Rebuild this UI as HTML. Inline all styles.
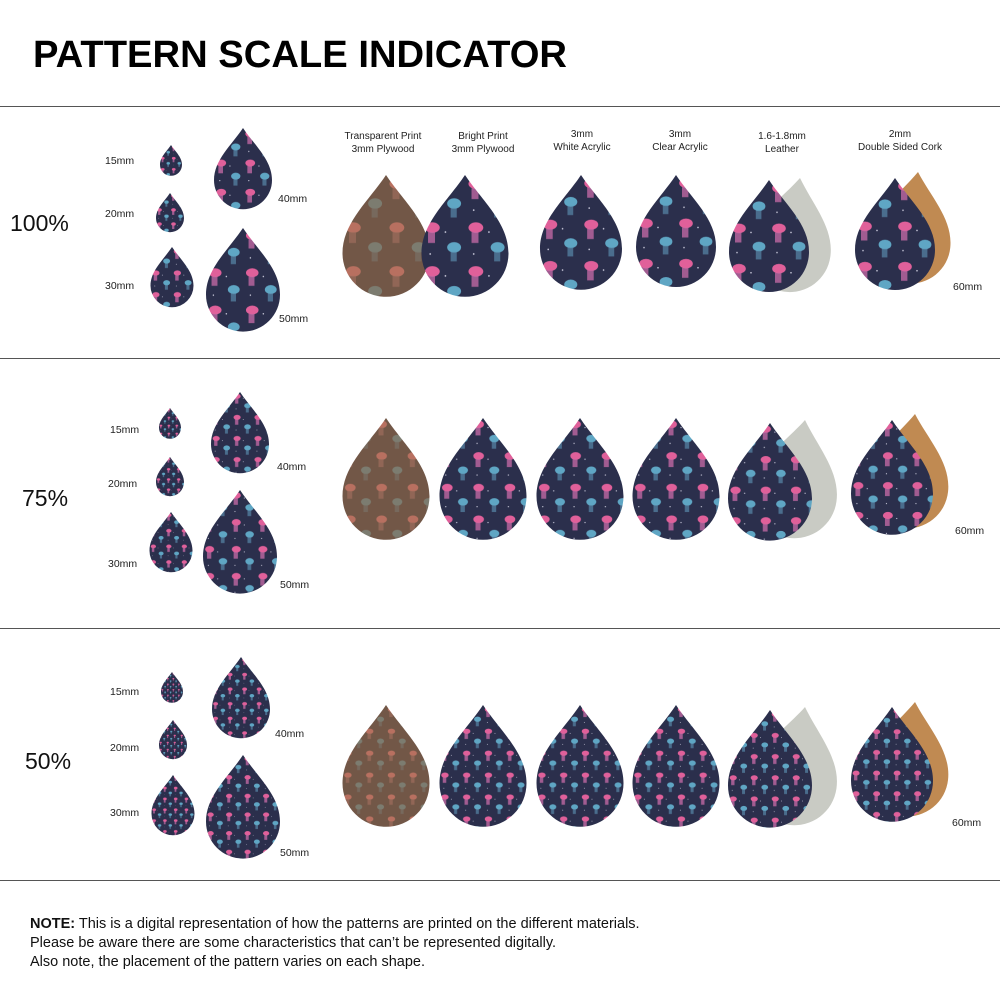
<!DOCTYPE html>
<html><head><meta charset="utf-8"><style>
body{margin:0;background:#fff;width:1000px;height:1000px;overflow:hidden;font-family:"Liberation Sans",sans-serif}
</style></head><body>
<svg width="1000" height="1000" viewBox="0 0 1000 1000" xmlns="http://www.w3.org/2000/svg" font-family="Liberation Sans, sans-serif">
<defs>
<path id="d" d="M0,0 C0.2,0.3 0.5,0.55 0.5,0.9 A0.5,0.5 0 0 1 -0.5,0.9 C-0.5,0.55 -0.2,0.3 0,0Z"/>
<g id="tn">
<rect width="1" height="1" fill="#2b2f4c"/>
<ellipse cx="0.25" cy="0.2" rx="0.17" ry="0.12" fill="#e0609a"/><rect x="0.15" y="0.3" width="0.16" height="0.25" fill="#c86aa8" opacity=".75"/>
<ellipse cx="0.75" cy="0.65" rx="0.16" ry="0.12" fill="#5fa6c4"/><rect x="0.67" y="0.75" width="0.14" height="0.22" fill="#5a8fb0" opacity=".65"/>
<circle cx="0.55" cy="0.3" r="0.02" fill="#ccd"/><circle cx="0.2" cy="0.8" r="0.02" fill="#ccd"/>
</g>
<g id="tw">
<rect width="1" height="1" fill="#725747"/>
<ellipse cx="0.25" cy="0.2" rx="0.17" ry="0.12" fill="#b87060"/><rect x="0.15" y="0.3" width="0.16" height="0.25" fill="#9a6a5a" opacity=".75"/>
<ellipse cx="0.75" cy="0.65" rx="0.16" ry="0.12" fill="#7c7c70"/><rect x="0.67" y="0.75" width="0.14" height="0.22" fill="#7a7468" opacity=".65"/>
</g>
<pattern id="p1" patternUnits="objectBoundingBox" patternContentUnits="objectBoundingBox" width="0.5" height="0.36"><use href="#tn" transform="scale(0.5,0.36)"/></pattern>
<pattern id="p2" patternUnits="objectBoundingBox" patternContentUnits="objectBoundingBox" width="0.36" height="0.26"><use href="#tn" transform="scale(0.36,0.26)"/></pattern>
<pattern id="p3" patternUnits="objectBoundingBox" patternContentUnits="objectBoundingBox" width="0.25" height="0.18"><use href="#tn" transform="scale(0.25,0.18)"/></pattern>
<pattern id="w1" patternUnits="objectBoundingBox" patternContentUnits="objectBoundingBox" width="0.5" height="0.36"><use href="#tw" transform="scale(0.5,0.36)"/></pattern>
<pattern id="w2" patternUnits="objectBoundingBox" patternContentUnits="objectBoundingBox" width="0.36" height="0.26"><use href="#tw" transform="scale(0.36,0.26)"/></pattern>
<pattern id="w3" patternUnits="objectBoundingBox" patternContentUnits="objectBoundingBox" width="0.25" height="0.18"><use href="#tw" transform="scale(0.25,0.18)"/></pattern>
</defs>

<text x="33" y="67" font-size="38" font-weight="bold" fill="#000" textLength="534" lengthAdjust="spacingAndGlyphs">PATTERN SCALE INDICATOR</text>
<g stroke="#555" stroke-width="1">
<line x1="0" y1="106.5" x2="1000" y2="106.5"/><line x1="0" y1="358.5" x2="1000" y2="358.5"/>
<line x1="0" y1="628.5" x2="1000" y2="628.5"/><line x1="0" y1="880.5" x2="1000" y2="880.5"/>
</g>

<g font-size="10" fill="#222" text-anchor="middle">
<text x="383" y="139">Transparent Print</text><text x="383" y="152">3mm Plywood</text>
<text x="483" y="139">Bright Print</text><text x="483" y="152">3mm Plywood</text>
<text x="582" y="137">3mm</text><text x="582" y="150">White Acrylic</text>
<text x="680" y="137">3mm</text><text x="680" y="150">Clear Acrylic</text>
<text x="782" y="139">1.6-1.8mm</text><text x="782" y="152">Leather</text>
<text x="900" y="137">2mm</text><text x="900" y="150">Double Sided Cork</text>
</g>

<g font-size="23" fill="#111">
<text x="10" y="231">100%</text><text x="22" y="506">75%</text><text x="25" y="769">50%</text>
</g>
<g font-size="10.5" fill="#222">
<text x="105" y="164">15mm</text><text x="105" y="217">20mm</text><text x="105" y="289">30mm</text>
<text x="278" y="202">40mm</text><text x="279" y="322">50mm</text><text x="953" y="290">60mm</text>
<text x="110" y="433">15mm</text><text x="108" y="487">20mm</text><text x="108" y="567">30mm</text>
<text x="277" y="470">40mm</text><text x="280" y="588">50mm</text><text x="955" y="534">60mm</text>
<text x="110" y="695">15mm</text><text x="110" y="751">20mm</text><text x="110" y="816">30mm</text>
<text x="275" y="737">40mm</text><text x="280" y="856">50mm</text><text x="952" y="826">60mm</text>
</g>

<!-- Row 1 -->
<use href="#d" fill="url(#p1)" transform="translate(171,145) scale(22)"/>
<use href="#d" fill="url(#p1)" transform="translate(170,193) scale(28)"/>
<use href="#d" fill="url(#p1)" transform="translate(172,247) scale(43)"/>
<use href="#d" fill="url(#p1)" transform="translate(243,128) scale(58)"/>
<use href="#d" fill="url(#p1)" transform="translate(243,228) scale(74)"/>
<use href="#d" fill="url(#w1)" transform="translate(386,175) scale(87)"/>
<use href="#d" fill="url(#p1)" transform="translate(465,175) scale(87)"/>
<use href="#d" fill="url(#p1)" transform="translate(581,175) scale(82)"/>
<use href="#d" fill="url(#p1)" transform="translate(676,175) scale(80)"/>
<use href="#d" fill="#c9cbc4" transform="translate(800,178) rotate(8) scale(82)"/>
<use href="#d" fill="url(#p1)" transform="translate(769,180) scale(80)"/>
<use href="#d" fill="#c08a52" transform="translate(918,172) rotate(6) scale(80)"/>
<use href="#d" fill="url(#p1)" transform="translate(895,178) scale(80)"/>

<!-- Row 2 -->
<use href="#d" fill="url(#p2)" transform="translate(170,408) scale(22)"/>
<use href="#d" fill="url(#p2)" transform="translate(170,457) scale(28)"/>
<use href="#d" fill="url(#p2)" transform="translate(171,512) scale(43)"/>
<use href="#d" fill="url(#p2)" transform="translate(240,392) scale(58)"/>
<use href="#d" fill="url(#p2)" transform="translate(240,490) scale(74)"/>
<use href="#d" fill="url(#w2)" transform="translate(386,418) scale(87)"/>
<use href="#d" fill="url(#p2)" transform="translate(483,418) scale(87)"/>
<use href="#d" fill="url(#p2)" transform="translate(580,418) scale(87)"/>
<use href="#d" fill="url(#p2)" transform="translate(676,418) scale(87)"/>
<use href="#d" fill="#c9cbc4" transform="translate(805,420) rotate(8) scale(85)"/>
<use href="#d" fill="url(#p2)" transform="translate(770,423) scale(84)"/>
<use href="#d" fill="#c08a52" transform="translate(915,414) rotate(6) scale(82)"/>
<use href="#d" fill="url(#p2)" transform="translate(892,420) scale(82)"/>

<!-- Row 3 -->
<use href="#d" fill="url(#p3)" transform="translate(172,672) scale(22)"/>
<use href="#d" fill="url(#p3)" transform="translate(173,720) scale(28)"/>
<use href="#d" fill="url(#p3)" transform="translate(173,775) scale(43)"/>
<use href="#d" fill="url(#p3)" transform="translate(241,657) scale(58)"/>
<use href="#d" fill="url(#p3)" transform="translate(243,755) scale(74)"/>
<use href="#d" fill="url(#w3)" transform="translate(386,705) scale(87)"/>
<use href="#d" fill="url(#p3)" transform="translate(483,705) scale(87)"/>
<use href="#d" fill="url(#p3)" transform="translate(580,705) scale(87)"/>
<use href="#d" fill="url(#p3)" transform="translate(676,705) scale(87)"/>
<use href="#d" fill="#c9cbc4" transform="translate(805,707) rotate(8) scale(85)"/>
<use href="#d" fill="url(#p3)" transform="translate(770,710) scale(84)"/>
<use href="#d" fill="#c08a52" transform="translate(915,702) rotate(6) scale(82)"/>
<use href="#d" fill="url(#p3)" transform="translate(892,707) scale(82)"/>

<g font-size="14.5" fill="#111">
<text x="30" y="928"><tspan font-weight="bold">NOTE:</tspan> This is a digital representation of how the patterns are printed on the different materials.</text>
<text x="30" y="947">Please be aware there are some characteristics that can’t be represented digitally.</text>
<text x="30" y="966">Also note, the placement of the pattern varies on each shape.</text>
</g>
</svg>
</body></html>
